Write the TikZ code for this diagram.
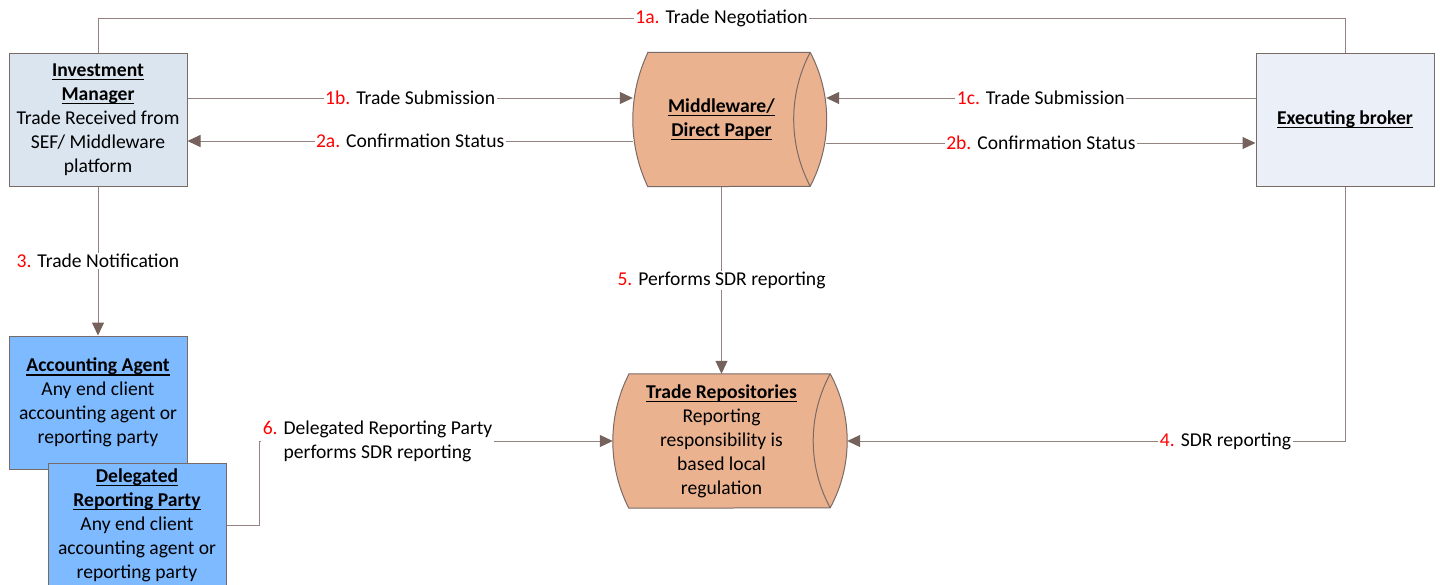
\documentclass[tikz,border=0pt]{standalone}
\usepackage{fontspec}
\setmainfont{Carlito}
\usetikzlibrary{arrows.meta,calc}
\definecolor{imfill}{HTML}{DAE5EF}
\definecolor{ebfill}{HTML}{EBF0F8}
\definecolor{aafill}{HTML}{7EBAFF}
\definecolor{cylfill}{HTML}{EBB290}
\definecolor{bord}{HTML}{7A6A65}
\definecolor{connc}{HTML}{928380}
\definecolor{tipc}{HTML}{76625C}
\definecolor{numred}{HTML}{FF0000}
\pgfdeclarelayer{bg}
\pgfsetlayers{bg,main}
\newcommand\myul[1]{\leavevmode\setbox0\hbox{\textbf{#1}}\rlap{\vrule width\wd0 height -2.4pt depth 3.8pt}\box0}
% #1 node, #2 left sagitta, #3 right sagitta (half height 67)
\newcommand\drawcyl[3]{%
  \pgfmathsetmacro\cylRl{(67*67+#2*#2)/(2*#2)}%
  \pgfmathsetmacro\cylAl{asin(67/\cylRl)}%
  \pgfmathsetmacro\cylRr{(67*67+#3*#3)/(2*#3)}%
  \pgfmathsetmacro\cylAr{asin(67/\cylRr)}%
  \begin{pgfonlayer}{bg}
  \filldraw[fill=cylfill,draw=bord,line width=1pt]
    ([xshift=#2pt]#1.north west) -- (#1.north east)
    arc[start angle=\cylAr,end angle=-\cylAr,radius=\cylRr pt]
    -- ([xshift=#2pt]#1.south west)
    arc[start angle=180+\cylAl,end angle=180-\cylAl,radius=\cylRl pt] -- cycle;
  \draw[bord,line width=1pt] (#1.north east)
    arc[start angle=180-\cylAr,end angle=180+\cylAr,radius=\cylRr pt];
  \end{pgfonlayer}}
\newcommand\num[1]{\textcolor{numred}{#1}}
\begin{document}
\begin{tikzpicture}[x=1pt,y=1pt,
  every node/.style={font=\fontsize{19.6}{24}\selectfont},
  box/.style={draw=bord,line width=1pt,rectangle,minimum width=178pt,minimum height=133pt,align=center,inner sep=0pt},
  cylnode/.style={rectangle,minimum height=134pt,align=center,inner sep=0pt},
  conn/.style={draw=connc,line width=1pt},
  arr/.style={conn,-{Triangle[length=13pt,width=12pt,color=tipc]}},
  lbl/.style={fill=white,inner xsep=1.5pt,inner ysep=1pt,align=center}]
\useasboundingbox (0,0) rectangle (1440,-584);

\node[box,fill=imfill] (im) at (98,-119.5) {\myul{Investment}\\\myul{Manager}\\Trade Received from\\SEF/ Middleware\\platform};
\node[box,fill=ebfill] (eb) at (1345,-119.5) {\myul{Executing broker}};
\node[box,fill=aafill] (aa) at (98,-402.5) {\myul{Accounting Agent}\\Any end client\\accounting agent or\\reporting party};
\node[box,fill=aafill,minimum height=124pt] (drp) at (137,-525) {\myul{Delegated}\\\myul{Reporting Party}\\Any end client\\accounting agent or\\reporting party};

\node[cylnode,minimum width=177pt] (mw) at (721.5,-119.5) {\myul{Middleware/}\\\myul{Direct Paper}};
\drawcyl{mw}{15}{16.5}
\node[cylnode,minimum width=217pt] (tr) at (721.5,-441) {\myul{Trade Repositories}\\Reporting\\responsibility is\\based local\\regulation};
\drawcyl{tr}{16}{17}

\coordinate (imR1) at ([yshift=21.5pt]im.east);
\coordinate (imR2) at ([yshift=-21.5pt]im.east);
\coordinate (ebL1) at ([yshift=21.5pt]eb.west);
\coordinate (ebL2) at ([yshift=-23.5pt]eb.west);
\coordinate (mwR) at ([xshift=16pt]mw.east);
\coordinate (trR) at ([xshift=17pt]tr.east);

\draw[conn] (im.north) -- ++(0,34.5) -| node[lbl,pos=0.25] {\num{1a.} Trade Negotiation} (eb.north);
\draw[arr] (imR1) -- node[lbl] {\num{1b.} Trade Submission} (imR1 -| mw.west);
\draw[arr] (imR2 -| mw.west) -- node[lbl] {\num{2a.} Confirmation Status} (imR2);
\draw[arr] (ebL1) -- node[lbl] {\num{1c.} Trade Submission} (ebL1 -| mwR);
\draw[arr] (ebL2 -| mwR) -- node[lbl] {\num{2b.} Confirmation Status} (ebL2);
\draw[arr] (im.south) -- node[lbl] {\num{3.} Trade Notification} (aa.north);
\draw[arr] (mw.south) -- node[lbl] {\num{5.} Performs SDR reporting} (tr.north);
\draw[arr] (eb.south) |- node[lbl,pos=0.62] {\num{4.} SDR reporting} (trR);
\draw[arr] (drp.east) -- ++(33,0) |- node[lbl,pos=0.667] {\num{6.} Delegated Reporting Party\\performs SDR reporting} (tr.west);
\end{tikzpicture}
\end{document}
